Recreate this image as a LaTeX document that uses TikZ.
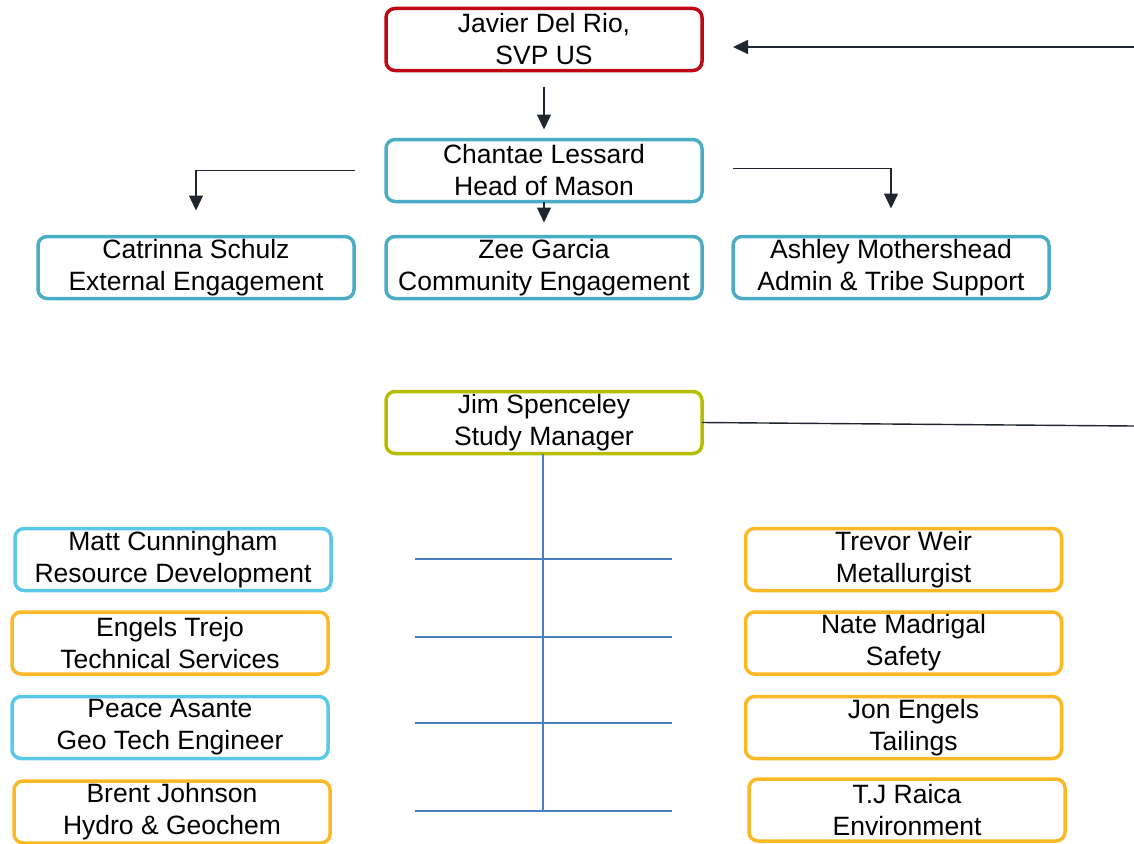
\documentclass[tikz,border=0pt]{standalone}
\usepackage{fontspec}
\setmainfont{Liberation Sans}
\usetikzlibrary{arrows.meta, positioning}

\definecolor{execred}{RGB}{192,8,20}
\definecolor{masonteal}{RGB}{75,172,198}
\definecolor{studyolive}{RGB}{181,189,0}
\definecolor{techblue}{RGB}{90,200,232}
\definecolor{techorange}{RGB}{253,184,39}
\definecolor{arrowdark}{RGB}{31,38,48}
\definecolor{treeblue}{RGB}{74,126,194}

\begin{document}
\begin{tikzpicture}[x=1pt, y=-1pt]
		\tikzstyle{PersonBox} = [rectangle, rounded corners=9pt, minimum width=316pt, minimum height=62pt, inner sep=0pt, outer sep=0pt, align=center, line width=3.5pt, fill=white, font=\fontsize{26.5}{32}\selectfont]
		\tikzstyle{ExecName} = [PersonBox, draw=execred]
		\tikzstyle{MasonName} = [PersonBox, draw=masonteal]
		\tikzstyle{StudyName} = [PersonBox, draw=studyolive]
		\tikzstyle{BlueName} = [PersonBox, draw=techblue]
		\tikzstyle{OrangeName} = [PersonBox, draw=techorange]
		\tikzstyle{arrow} = [line width=1.4pt, draw=arrowdark, -{Triangle[length=15pt, width=14pt]}]
		\tikzstyle{link} = [line width=1.4pt, draw=arrowdark]
		\tikzstyle{branch} = [line width=1.3pt, draw=treeblue]
		
		\useasboundingbox (0,0) rectangle (1134,843);
		
		\node (javier) [ExecName] at (544,39.5) {Javier Del Rio,\\SVP US};
		\node (chantae) [MasonName, below = 69pt of javier] {Chantae Lessard\\Head of Mason};
		\node (zee) [MasonName, below = 35pt of chantae] {Zee Garcia\\Community Engagement};
		\node (catrinna) [MasonName, left = 32pt of zee] {Catrinna Schulz\\External Engagement};
		\node (ashley) [MasonName, right = 31pt of zee] {Ashley Mothershead\\Admin \& Tribe Support};
		
		\node (jim) [StudyName, below = 93pt of zee] {Jim Spenceley\\Study Manager};
		
		\node (matt) [BlueName] at (173,559.5) {Matt Cunningham\\Resource Development};
		\node (engels) [OrangeName] at (170,643) {Engels Trejo\\Technical Services};
		\node (peace) [BlueName] at (170,727.5) {Peace Asante\\Geo Tech Engineer};
		\node (brent) [OrangeName] at (172,812) {Brent Johnson\\Hydro \& Geochem};
		
		\node (trevor) [OrangeName] at (903.5,559.5) {Trevor Weir\\Metallurgist};
		\node (nate) [OrangeName] at (903.5,643) {Nate Madrigal\\Safety};
		\node (jon) [OrangeName] at (903.5,727.5) {\hspace*{20pt}Jon Engels\\\hspace*{20pt}Tailings};
		\node (tj) [OrangeName] at (907,810) {T.J Raica\\Environment};
		
		% links coming in from the right
		\coordinate (fromRight) at (1134,47);
		\coordinate (toRight) at (1134,426);
		\draw[arrow] (fromRight) -- (733,47);
		\draw[link] (jim.east) -- (toRight);
		
		\draw[arrow] ([yshift=-16pt]javier.south) -- ([yshift=10pt]chantae.north);
		\draw[arrow] ([xshift=-31pt]chantae.west) -| ([yshift=26pt]catrinna.north);
		\draw[arrow] ([xshift=31pt, yshift=2pt]chantae.east) -| ([yshift=28pt]ashley.north);
		\draw[arrow] (chantae.south) -- ([yshift=14pt]zee.north);
		
		% study team tree
		\coordinate (trunkEnd) at (543,811);
		\draw[branch] (jim.south -| trunkEnd) -- (trunkEnd);
		\foreach \y/\n in {559/a, 637/b, 723/c, 811/d} {
			\coordinate (left\n) at (415,\y);
			\coordinate (right\n) at (672,\y);
			\draw[branch] (left\n) -- (right\n);
		}
\end{tikzpicture}
\end{document}
